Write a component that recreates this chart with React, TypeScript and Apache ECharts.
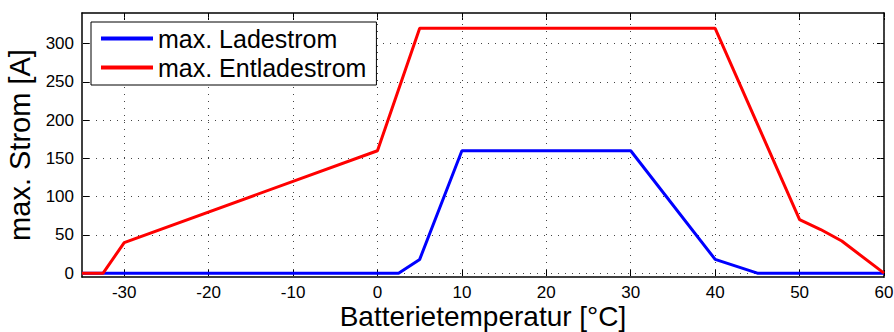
import React, { useEffect, useRef } from "react";
import * as echarts from "echarts";

const xTicks = [-30, -20, -10, 0, 10, 20, 30, 40, 50, 60];
const yTicks = [0, 50, 100, 150, 200, 250, 300];

const ladeTemp = [-35, 2.5, 5, 10, 30, 40, 45, 60];
const ladeStrom = [0, 0, 18, 160, 160, 18, 0, 0];

const entladeTemp = [-35, -32.5, -30, 0, 5, 40, 50, 52.5, 55, 60];
const entladeStrom = [0, 0, 40, 160, 320, 320, 70, 57, 42, 0];

const seriesNames = ["max. Ladestrom", "max. Entladestrom"];

const FONT = "'Liberation Sans', Arial, Helvetica, sans-serif";

export default function App() {
  const ref = useRef<HTMLDivElement>(null);

  useEffect(() => {
    document.body.style.margin = "0";
    if (!ref.current) return;
    const chart = echarts.init(ref.current, null, { renderer: "svg" });

    const axLine = { show: true, onZero: false, lineStyle: { color: "#000", width: 1.5 } };
    const tick = (vals: number[]) => ({
      show: true,
      inside: true,
      length: 7,
      customValues: vals,
      lineStyle: { color: "#000", width: 1 },
    });

    chart.setOption({
      animation: false,
      backgroundColor: "#fff",
      textStyle: { fontFamily: FONT },
      grid: { left: 82, right: 10, top: 13, bottom: 55, containLabel: false, outerBoundsMode: "none" },
      legend: {
        show: true,
        orient: "vertical",
        left: 91,
        top: 22,
        data: seriesNames,
        icon: "rect",
        itemWidth: 52,
        itemHeight: 4,
        itemGap: 4,
        padding: [4, 10, 5, 10],
        backgroundColor: "#fff",
        borderColor: "#000",
        borderWidth: 1,
        z: 10,
        textStyle: { fontSize: 25, color: "#000", fontFamily: FONT },
      },
      xAxis: [
        {
          type: "value",
          min: -35,
          max: 60,
          position: "bottom",
          name: "Batterietemperatur [°C]",
          nameLocation: "middle",
          nameGap: 27,
          nameMoveOverlap: false,
          nameTextStyle: { fontSize: 28, lineHeight: 24, color: "#000", fontFamily: FONT },
          axisLine: axLine,
          axisTick: tick(xTicks),
          axisLabel: { show: true, customValues: xTicks, fontSize: 17, color: "#000", margin: 7, fontFamily: FONT },
          splitLine: { show: false },
        },
        {
          type: "value",
          min: -35,
          max: 60,
          position: "top",
          axisLine: axLine,
          axisTick: tick(xTicks),
          axisLabel: { show: false },
          splitLine: { show: false },
        },
      ],
      yAxis: [
        {
          type: "value",
          min: -5,
          max: 340,
          position: "left",
          name: "max. Strom [A]",
          nameLocation: "middle",
          nameGap: 34,
          nameTextStyle: { fontSize: 29, color: "#000", fontFamily: FONT },
          axisLine: axLine,
          axisTick: tick(yTicks),
          axisLabel: { show: true, customValues: yTicks, fontSize: 17, color: "#000", margin: 8, fontFamily: FONT },
          splitLine: { show: false },
        },
        {
          type: "value",
          min: -5,
          max: 340,
          position: "right",
          axisLine: axLine,
          axisTick: tick(yTicks),
          axisLabel: { show: false },
          splitLine: { show: false },
        },
      ],
      series: [
        {
          name: "grid",
          type: "line",
          xAxisIndex: 0,
          yAxisIndex: 0,
          z: 1,
          data: [],
          markLine: {
            silent: true,
            z: 1,
            symbol: ["none", "none"],
            label: { show: false },
            lineStyle: { color: "#444", width: 1, type: [1, 6] as any },
            data: [
              ...xTicks.map((v) => ({ xAxis: v })),
              ...yTicks.map((v) => ({ yAxis: v })),
            ],
          },
        },
        {
          name: seriesNames[0],
          type: "line",
          xAxisIndex: 0,
          yAxisIndex: 0,
          symbol: "none",
          z: 3,
          lineStyle: { color: "#0000ff", width: 3 },
          itemStyle: { color: "#0000ff" },
          data: ladeTemp.map((t, i) => [t, ladeStrom[i]]),
        },
        {
          name: seriesNames[1],
          type: "line",
          xAxisIndex: 0,
          yAxisIndex: 0,
          symbol: "none",
          z: 4,
          lineStyle: { color: "#ff0000", width: 3 },
          itemStyle: { color: "#ff0000" },
          data: entladeTemp.map((t, i) => [t, entladeStrom[i]]),
        },
      ],
    });

    return () => chart.dispose();
  }, []);

  return <div ref={ref} style={{ width: 894, height: 332 }} />;
}
